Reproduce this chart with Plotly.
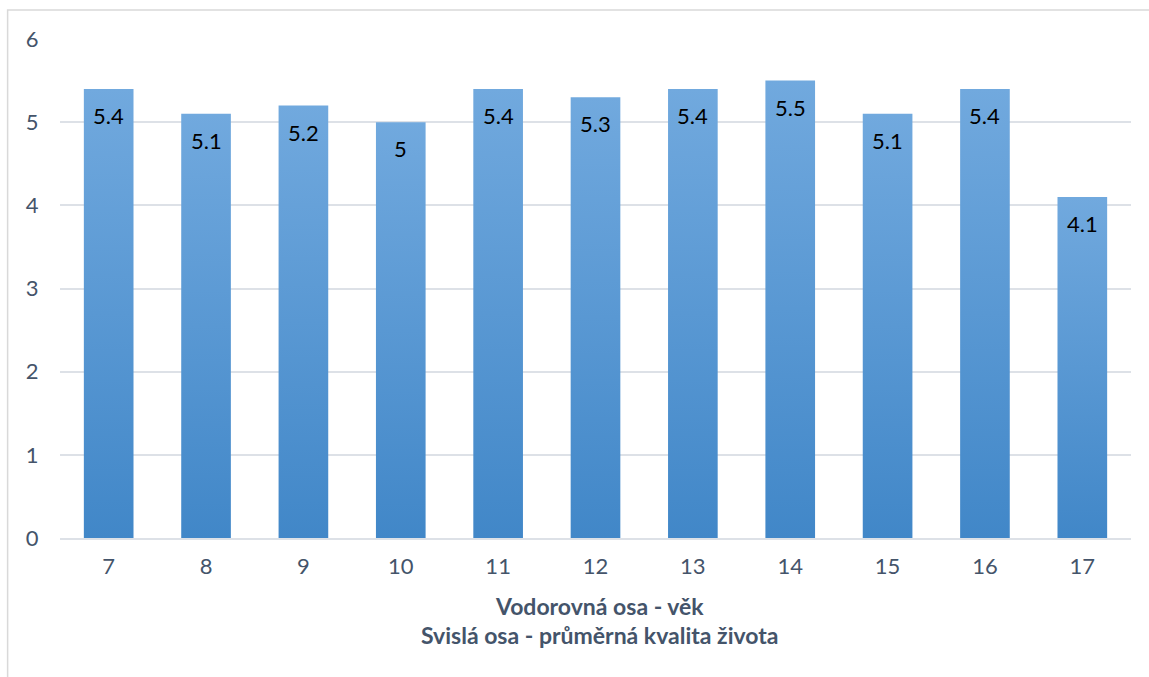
import plotly.graph_objects as go

# Average quality of life by age
ages = ["7", "8", "9", "10", "11", "12", "13", "14", "15", "16", "17"]
quality = [5.4, 5.1, 5.2, 5.0, 5.4, 5.3, 5.4, 5.5, 5.1, 5.4, 4.1]
value_labels = ["5.4", "5.1", "5.2", "5", "5.4", "5.3", "5.4", "5.5", "5.1", "5.4", "4.1"]
y_ticks = [0, 1, 2, 3, 4, 5, 6]

BAR_W = 0.51
TOP_COLOR = "#71a9de"
BOTTOM_COLOR = "#4187c8"
TEXT_COLOR = "#44546a"
GRID_COLOR = "#dde1e7"
FONT = "Lato"

fig = go.Figure()

# each bar is a filled rectangle with its own vertical gradient
for i, v in enumerate(quality):
    x0, x1 = i - BAR_W / 2, i + BAR_W / 2
    fig.add_trace(go.Scatter(
        x=[x0, x1, x1, x0, x0],
        y=[0, 0, v, v, 0],
        mode="none",
        fill="toself",
        fillgradient=dict(
            type="vertical",
            colorscale=[[0, BOTTOM_COLOR], [1, TOP_COLOR]],
        ),
        hoverinfo="skip",
        showlegend=False,
    ))
    fig.add_annotation(
        x=i, y=v, text=value_labels[i], showarrow=False,
        yanchor="top", yshift=-11,
        font=dict(family=FONT, size=22, color="#000000"),
    )

fig.add_annotation(
    x=0.5042, y=-0.1363, xref="paper", yref="paper",
    text="<b>Vodorovná osa - věk</b>", showarrow=False,
    xanchor="center", yanchor="middle",
    font=dict(family=FONT, size=23, color=TEXT_COLOR),
)
fig.add_annotation(
    x=0.5042, y=-0.1944, xref="paper", yref="paper",
    text="<b>Svislá osa - průměrná kvalita života</b>", showarrow=False,
    xanchor="center", yanchor="middle",
    font=dict(family=FONT, size=23, color=TEXT_COLOR),
)

# chart-area border
fig.add_shape(
    type="rect", xref="paper", yref="paper",
    x0=-0.0489, x1=1.03, y0=-0.31, y1=1.0581,
    line=dict(color="#d9d9d9", width=1.5),
    fillcolor="rgba(0,0,0,0)", layer="below",
)

fig.update_layout(
    width=1149, height=677,
    margin=dict(l=60, r=18, t=39, b=139),
    paper_bgcolor="white", plot_bgcolor="white",
    font=dict(family=FONT, size=22, color=TEXT_COLOR),
    xaxis=dict(
        range=[-0.5, len(ages) - 0.5],
        tickmode="array", tickvals=list(range(len(ages))), ticktext=ages,
        showgrid=False, zeroline=False,
        showline=True, linecolor=GRID_COLOR, linewidth=2,
        ticks="outside", ticklen=8, tickcolor="rgba(0,0,0,0)",
        tickfont=dict(family=FONT, size=22, color=TEXT_COLOR),
    ),
    yaxis=dict(
        range=[0, 6], tickmode="array", tickvals=y_ticks,
        showgrid=True, gridcolor=GRID_COLOR, gridwidth=2,
        zeroline=False, showline=False,
        ticks="outside", ticklen=16, tickcolor="rgba(0,0,0,0)",
        tickfont=dict(family=FONT, size=22, color=TEXT_COLOR),
    ),
)

fig.write_html("out.html")
